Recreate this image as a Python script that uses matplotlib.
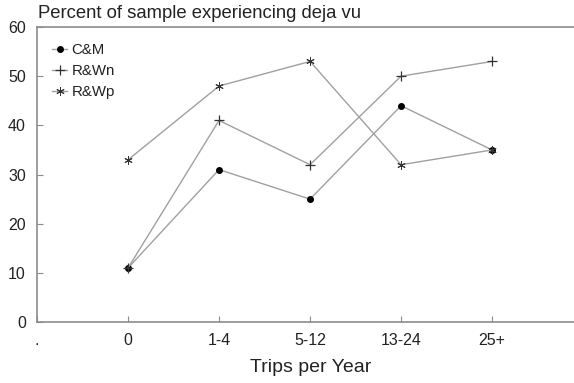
import matplotlib
matplotlib.use("Agg")
import matplotlib.pyplot as plt

plt.rcParams['font.family'] = ['Liberation Sans', 'DejaVu Sans']

categories = ["0", "1-4", "5-12", "13-24", "25+"]
cm_values = [11, 31, 25, 44, 35]
rwn_values = [11, 41, 32, 50, 53]
rwp_values = [33, 48, 53, 32, 35]

fig = plt.figure(figsize=(5.74, 3.83), dpi=100)
ax = fig.add_axes([0.0645, 0.159, 0.9355, 0.7705])

x = list(range(len(categories)))
line_color = "#a0a0a0"
ax.plot(x, cm_values, color=line_color, lw=1.0, marker="o", ms=4,
        mfc="black", mec="black", label="C&M")
ax.plot(x, rwn_values, color=line_color, lw=1.0, marker="+", ms=7,
        mec="#333333", mew=0.9, label="R&Wn")
ax.plot(x, rwp_values, color=line_color, lw=1.0, marker=(6, 2, 0), ms=6,
        mec="#333333", mew=0.7, label="R&Wp")

ax.set_xlim(-1, 4.9)
ax.set_ylim(0, 60)
ax.set_xticks([-1] + x)
ax.set_xticklabels(["."] + categories)
ax.set_yticks([0, 10, 20, 30, 40, 50, 60])

for side in ("left", "bottom", "top"):
    ax.spines[side].set_color("#8c8c8c")
    ax.spines[side].set_linewidth(1.2)
ax.spines["right"].set_visible(False)
ax.tick_params(direction="in", length=4, color="#8c8c8c", labelsize=11.5,
               labelcolor="#222222")
ax.tick_params(axis="x", pad=8)
ax.tick_params(axis="y", pad=8)

ax.set_xlabel("Trips per Year", fontsize=14, color="#222222")
ax.xaxis.set_label_coords(0.51, -0.125)
fig.text(0.066, 0.965, "Percent of sample experiencing deja vu", fontsize=13.3,
         color="#222222", ha="left", va="center")

ax.legend(loc="upper left", frameon=False, fontsize=10.8, handlelength=1.0,
          handletextpad=0.3, labelspacing=0.45, borderaxespad=0.6,
          bbox_to_anchor=(0.0, 0.995), labelcolor="#222222")

fig.savefig("out.png", dpi=100)
